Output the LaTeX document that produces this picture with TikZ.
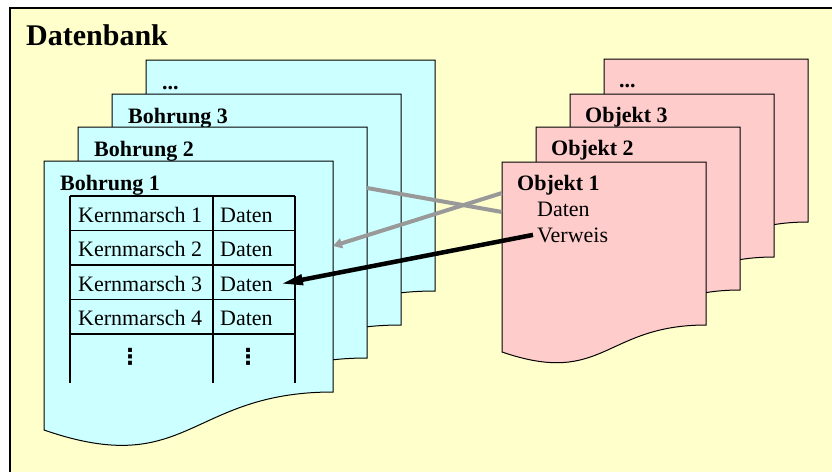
\documentclass[tikz,border=0pt]{standalone}
\usepackage{fontspec}
\setmainfont{Liberation Serif}
\newfontfamily\dejavu{DejaVu Sans}
\usetikzlibrary{arrows.meta}
\definecolor{hellgelb}{RGB}{255,255,204}
\definecolor{hellblau}{RGB}{204,255,255}
\definecolor{hellrot}{RGB}{255,204,204}
\definecolor{verweisgrau}{RGB}{153,153,153}

\begin{document}
\begin{tikzpicture}[x=1pt, y=-1pt,
        bohrung/.style = {draw=black, fill=hellblau, line width=1pt},
        objekt/.style = {draw=black, fill=hellrot, line width=1pt},
        titel/.style = {anchor=base west, inner sep=0pt, font=\fontsize{22}{26}\selectfont\bfseries},
        eintrag/.style = {anchor=base west, inner sep=0pt, font=\fontsize{22}{26}\selectfont},
        punkte/.style = {inner sep=0pt, font=\dejavu\fontsize{22}{26}\selectfont\bfseries},
        tabelle/.style = {draw=black, line width=1.2pt},
        grauerpfeil/.style = {draw=verweisgrau, line width=4pt},
        schwarzerpfeil/.style = {draw=black, line width=4.5pt}]
    \useasboundingbox (0,0) rectangle (832,471);
    \fill[white] (0,0) rectangle (832,471);
    \draw[fill=hellgelb, line width=2.5pt] (10,8) rectangle (845,485);
    \node[titel, font=\fontsize{30}{34}\selectfont\bfseries] (datenbank) at (26,45) {Datenbank};
    \foreach \x/\y/\t/\n in {146/60/{.\kern0pt.\kern0pt.}/b4, 112/94/Bohrung 3/b3, 78/127/Bohrung 2/b2, 44/161/Bohrung 1/b1} {
        \draw[bohrung] (\x,\y) -- (\x+289,\y) -- (\x+289,\y+231)
            .. controls (\x+144.5,\y+231) and (\x+144.5,\y+319) .. (\x,\y+269) -- cycle;
        \node[titel] (\n) at (\x+16,\y+29) {\t};
    }
    \foreach \i in {0,...,4}
        \draw[tabelle] (70,196+34.5*\i) -- (295,196+34.5*\i);
    \foreach \x in {70,213,295}
        \draw[tabelle] (\x,196) -- (\x,383);
    \foreach \i in {1,...,4} {
        \node[eintrag] (k\i) at (78,187.5+34.5*\i) {Kernmarsch \i};
        \node[eintrag] (d\i) at (220,187.5+34.5*\i) {Daten};
    }
    \node[punkte] (k5) at (130,357) {⋮};
    \node[punkte] (d5) at (248,357) {⋮};
    \foreach \x/\y/\t/\n in {604/59/{.\kern0pt.\kern0pt.}/o4, 570/94/Objekt 3/o3, 536/127/Objekt 2/o2, 502/162/Objekt 1/o1} {
        \draw[objekt] (\x,\y) -- (\x+204,\y) -- (\x+204,\y+163)
            .. controls (\x+102,\y+163) and (\x+102,\y+225) .. (\x,\y+190) -- cycle;
        \node[titel] (\n) at (\x+15,\y+28) {\t};
    }
    \node[eintrag] (daten) at (537,216) {Daten};
    \node[eintrag] (verweis) at (537,242) {Verweis};
    \coordinate (b2rand) at (367,188);
    \coordinate (b1rand) at (333,246);
    \coordinate (o1rand1) at (502,212);
    \coordinate (o1rand2) at (502,193);
    \draw[grauerpfeil] (b2rand) -- (o1rand1);
    \draw[grauerpfeil, -{Triangle[length=9pt, width=10pt]}] (o1rand2) -- (b1rand);
    \draw[schwarzerpfeil, -{Triangle[length=22pt, width=10pt]}] ([xshift=-4pt]verweis.west) -- ([xshift=8pt]d3.east);
\end{tikzpicture}
\end{document}
